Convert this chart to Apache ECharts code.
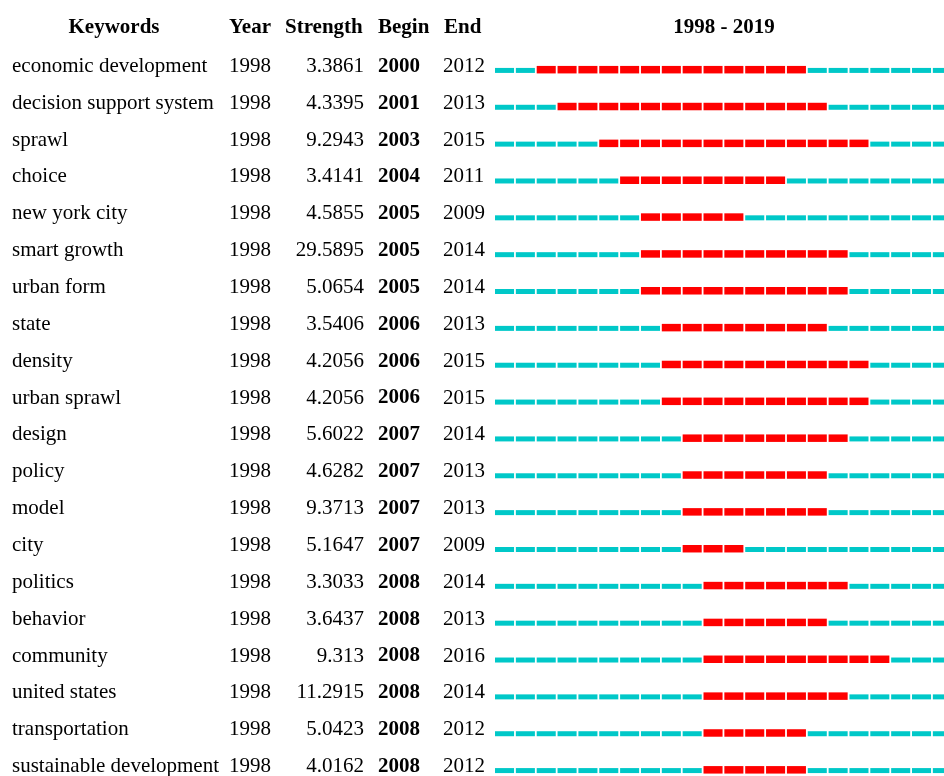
<!DOCTYPE html>
<html>
<head>
<meta charset="utf-8">
<script src="https://cdn.jsdelivr.net/npm/echarts@6/dist/echarts.min.js"></script>
<style>
  html, body { margin: 0; padding: 0; background: #fff; overflow: hidden; }
  #chart { width: 970px; height: 800px; }
</style>
</head>
<body>
<div id="chart"></div>
<script>
// keyword bursts, 1998 - 2019 (the table runs past the right / bottom edge of the window)
const keywords = [
  "economic development", "decision support system", "sprawl", "choice",
  "new york city", "smart growth", "urban form", "state", "density",
  "urban sprawl", "design", "policy", "model", "city", "politics",
  "behavior", "community", "united states", "transportation",
  "sustainable development"
];
const years = [1998, 1998, 1998, 1998, 1998, 1998, 1998, 1998, 1998, 1998,
  1998, 1998, 1998, 1998, 1998, 1998, 1998, 1998, 1998, 1998];
const strengths = [3.3861, 4.3395, 9.2943, 3.4141, 4.5855, 29.5895, 5.0654,
  3.5406, 4.2056, 4.2056, 5.6022, 4.6282, 9.3713, 5.1647, 3.3033, 3.6437,
  9.313, 11.2915, 5.0423, 4.0162];
const begins = [2000, 2001, 2003, 2004, 2005, 2005, 2005, 2006, 2006, 2006,
  2007, 2007, 2007, 2007, 2008, 2008, 2008, 2008, 2008, 2008];
const ends = [2012, 2013, 2015, 2011, 2009, 2014, 2014, 2013, 2015, 2015,
  2014, 2013, 2013, 2009, 2014, 2013, 2016, 2014, 2012, 2012];
const firstYear = 1998;
const lastYear = 2019;

const FONT = '"Liberation Serif", "Times New Roman", serif';
const SIZE = "21px ";
const RED = "#ff0000";
const CYAN = "#00c8c8";

const chart = echarts.init(document.getElementById("chart"));

const rows = keywords.map((k, i) => [i, begins[i], ends[i]]);

function txt(text, x, y, align, bold) {
  return {
    type: "text",
    style: {
      text: text,
      x: x,
      y: y,
      align: align,
      verticalAlign: "middle",
      font: (bold ? "bold " : "") + SIZE + FONT,
      fill: "#000"
    }
  };
}

function head(text, x, align) {
  return {
    type: "text",
    x: x,
    y: 28,
    style: { text: text, align: align, verticalAlign: "middle", font: "bold " + SIZE + FONT, fill: "#000" }
  };
}

function renderRow(params, api) {
  const i = api.value(0);
  const b = api.value(1);
  const e = api.value(2);
  const children = [];
  for (let y = firstYear; y <= lastYear; y++) {
    const p0 = api.coord([y, i]);
    const p1 = api.coord([y + 1, i]);
    const hot = y >= b && y <= e;
    children.push({
      type: "rect",
      shape: {
        x: p0[0],
        y: p0[1] + (hot ? 1 : 3),
        width: p1[0] - p0[0] - 1.8,
        height: hot ? 7.5 : 5
      },
      style: { fill: hot ? RED : CYAN }
    });
  }
  const cy = api.coord([firstYear, i])[1] + 1.5;
  children.push(txt(keywords[i], 12, cy, "left"));
  children.push(txt(String(years[i]), 229, cy, "left"));
  children.push(txt(String(strengths[i]), 364, cy, "right"));
  children.push(txt(String(b), 378, cy, "left", true));
  children.push(txt(String(e), 443, cy, "left"));
  return { type: "group", children: children };
}

const option = {
  backgroundColor: "#fff",
  animation: false,
  grid: { left: 495, top: 46.5, width: 22 * 20.85, height: 20 * 36.85 },
  xAxis: {
    type: "value",
    min: firstYear,
    max: lastYear + 1,
    show: false
  },
  yAxis: {
    type: "category",
    data: keywords,
    inverse: true,
    show: false
  },
  graphic: [
    head("Keywords", 114, "center"),
    head("Year", 229, "left"),
    head("Strength", 285, "left"),
    head("Begin", 378, "left"),
    head("End", 444, "left"),
    head(firstYear + " - " + lastYear, 724, "center")
  ],
  series: [
    {
      type: "custom",
      renderItem: renderRow,
      encode: { x: 1, y: 0 },
      data: rows
    }
  ]
};

chart.setOption(option);
</script>
</body>
</html>
